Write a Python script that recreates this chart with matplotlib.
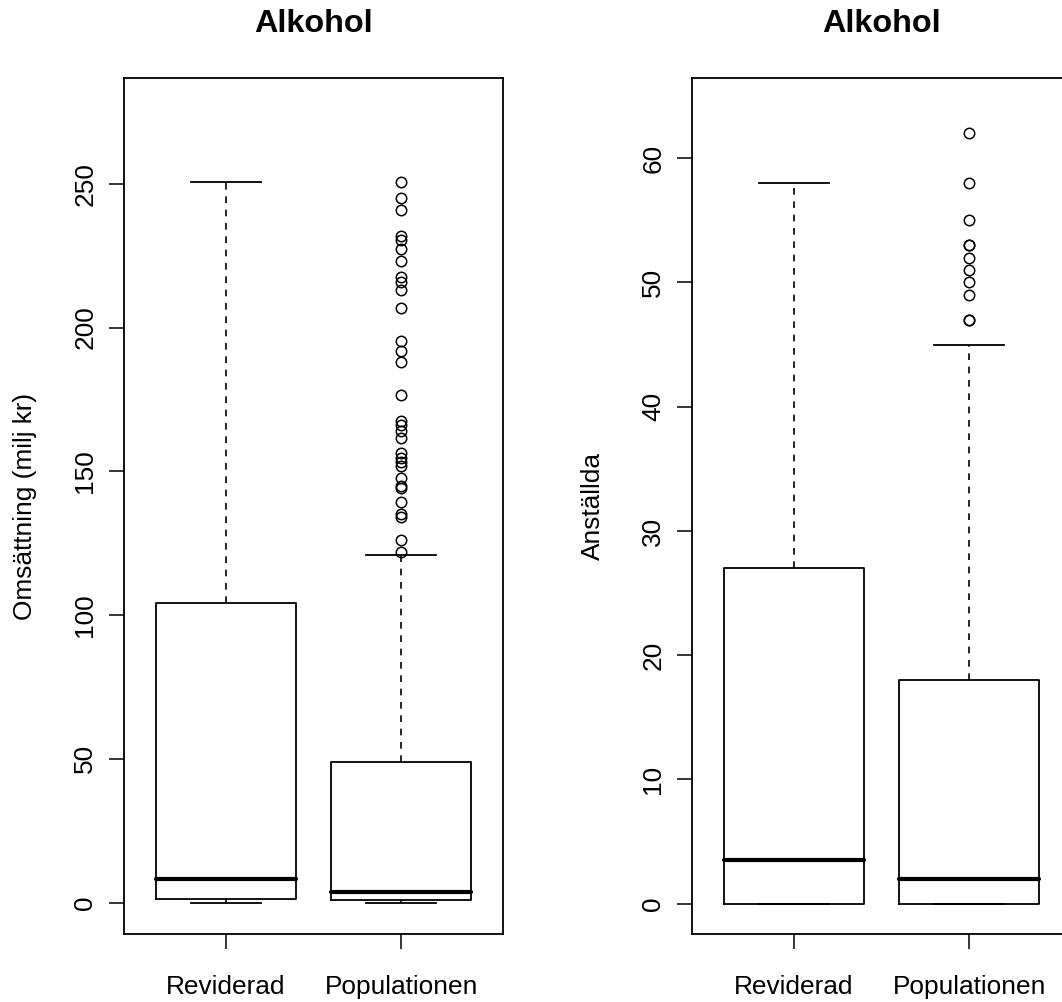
import matplotlib
matplotlib.use("Agg")
import matplotlib.pyplot as plt

plt.rcParams['font.family'] = ['Liberation Sans', 'DejaVu Sans']
plt.rcParams['lines.scale_dashes'] = False

categories = ["Reviderad", "Populationen"]
title = "Alkohol"

# Left panel: Omsättning (milj kr)
oms_whislo = [0.0, 0.0]
oms_q1 = [1.4, 0.8]
oms_med = [8.3, 3.8]
oms_q3 = [104.2, 49.0]
oms_whishi = [250.5, 121.0]
oms_fliers_rev = []
oms_fliers_pop = [250.7, 245.0, 241.0, 232.0, 230.3, 227.4, 223.0, 217.5, 216.0,
                  212.9, 206.7, 195.5, 191.7, 187.9, 176.6, 167.6, 166.2, 163.9,
                  161.6, 156.4, 154.6, 153.4, 151.7, 147.6, 145.0, 144.2, 139.3,
                  135.3, 134.0, 126.2, 122.0]
oms_ticks = [0, 50, 100, 150, 200, 250]

# Right panel: Anställda
ans_whislo = [0.0, 0.0]
ans_q1 = [0.0, 0.0]
ans_med = [3.5, 2.0]
ans_q3 = [27.0, 18.0]
ans_whishi = [58.0, 45.0]
ans_fliers_rev = []
ans_fliers_pop = [47, 47, 49, 50, 51, 52, 53, 53, 55, 58, 62]
ans_ticks = [0, 10, 20, 30, 40, 50, 60]

W, H = 1062, 1002
fig = plt.figure(figsize=(W / 100, H / 100), dpi=100)

def make_stats(whislo, q1, med, q3, whishi, fliers_list):
    stats = []
    for i in range(len(categories)):
        stats.append(dict(whislo=whislo[i], q1=q1[i], med=med[i], q3=q3[i],
                          whishi=whishi[i], fliers=fliers_list[i], label=categories[i]))
    return stats

def draw(ax, stats, ylim, ticks, ylabel):
    ax.bxp(stats, positions=[1, 2], widths=0.8, capwidths=0.4,
           boxprops=dict(color='black', linewidth=1.3),
           medianprops=dict(color='black', linewidth=3.0, solid_capstyle='round'),
           whiskerprops=dict(color='black', linewidth=1.2, linestyle=(0, (4.8, 4.8))),
           capprops=dict(color='black', linewidth=1.3),
           flierprops=dict(marker='o', markerfacecolor='none', markeredgecolor='black',
                           markersize=7.5, markeredgewidth=1.1, linestyle='none'))
    ax.set_xlim(0.42, 2.58)
    ax.set_ylim(*ylim)
    ax.set_yticks(ticks)
    ax.set_yticklabels([str(t) for t in ticks])
    ax.set_xticks([1, 2])
    ax.set_xticklabels(categories)
    ax.tick_params(axis='both', direction='out', length=10.8, width=1.1, labelsize=18.9)
    ax.tick_params(axis='y', pad=8.5)
    ax.tick_params(axis='x', pad=18.5)
    plt.setp(ax.get_yticklabels(), rotation=90, va='center')
    for s in ax.spines.values():
        s.set_linewidth(1.3)
    ax.set_title(title, fontsize=23.3, fontweight='bold', pad=33)
    ax.set_ylabel(ylabel, fontsize=18.9)
    ax.yaxis.set_label_coords(-0.2296, 0.5)

bottom = (H - 934) / H
height = 856 / H
ax1 = fig.add_axes([124 / W, bottom, 379 / W, height])
ax2 = fig.add_axes([692 / W, bottom, 379 / W, height])

draw(ax1, make_stats(oms_whislo, oms_q1, oms_med, oms_q3, oms_whishi,
                     [oms_fliers_rev, oms_fliers_pop]),
     (-10.9, 286.8), oms_ticks, "Omsättning (milj kr)")
draw(ax2, make_stats(ans_whislo, ans_q1, ans_med, ans_q3, ans_whishi,
                     [ans_fliers_rev, ans_fliers_pop]),
     (-2.44, 66.46), ans_ticks, "Anställda")

fig.savefig("out.png", dpi=100)
